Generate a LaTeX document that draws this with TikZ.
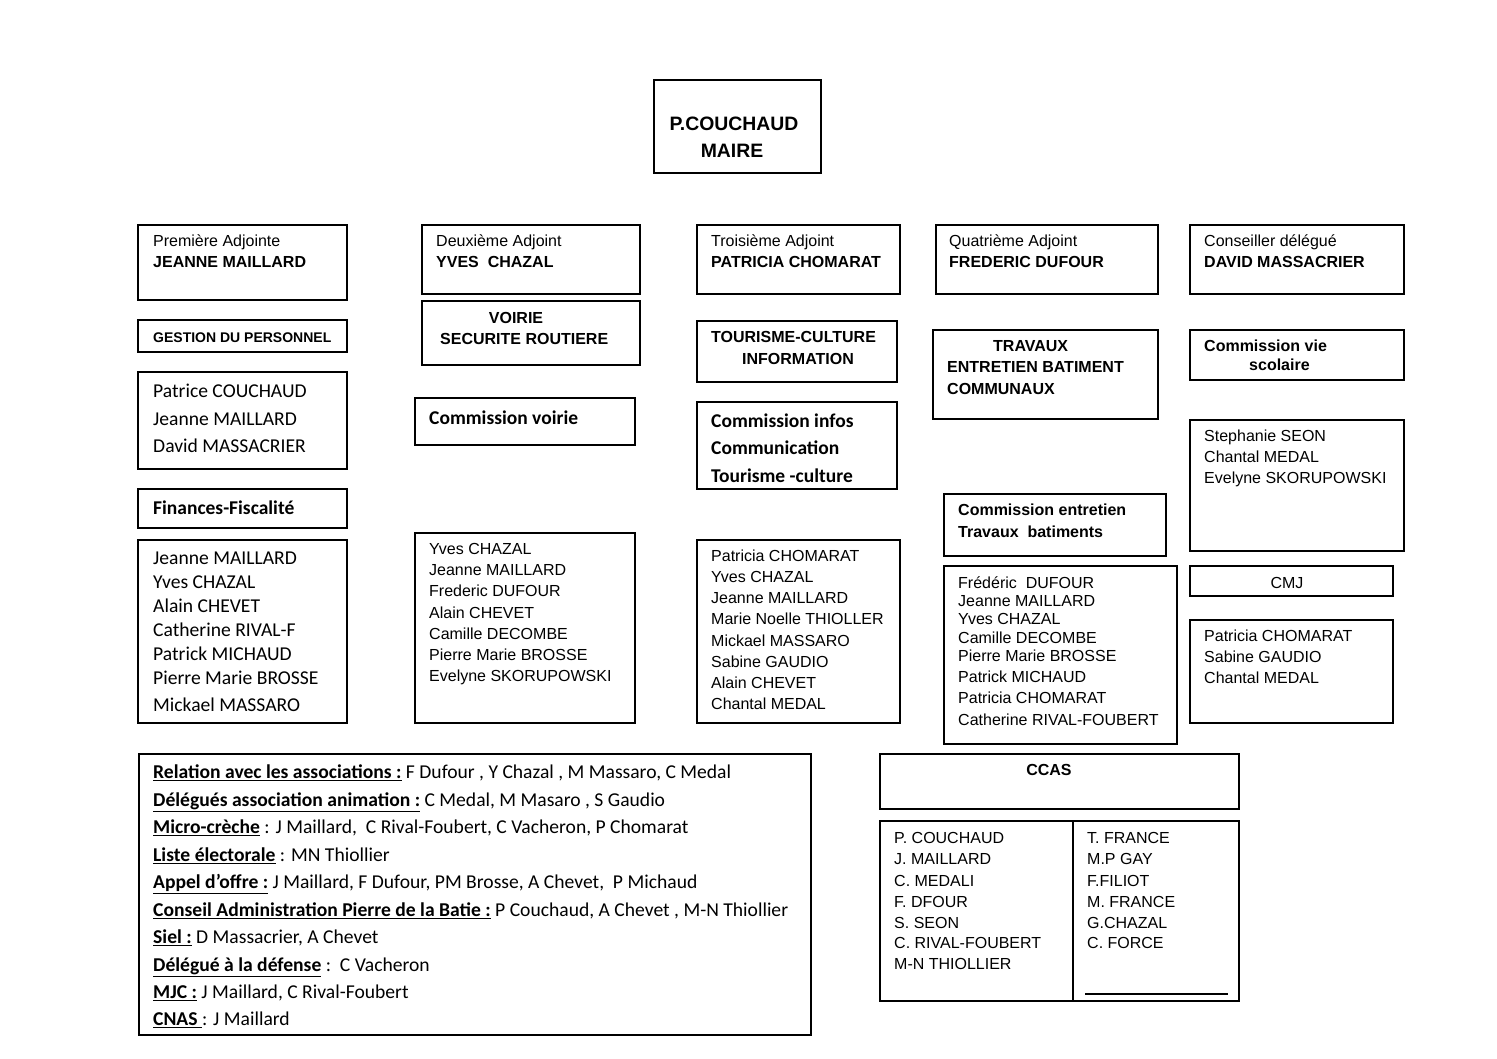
\documentclass[tikz,border=0pt]{standalone}
\usepackage{fontspec}
\newfontfamily\arialf{Liberation Sans}
\newfontfamily\calibf{Carlito}
\begin{document}
\begin{tikzpicture}[x=1pt,y=-1pt,
  bx/.style={draw=black, line width=1.6pt},
  ar/.style={anchor=west, inner sep=0pt, font=\arialf\fontsize{16}{19}\selectfont, text height=11.5pt, text depth=0pt},
  arb/.style={ar, font=\arialf\bfseries\fontsize{16}{19}\selectfont},
  arbs/.style={ar, font=\arialf\bfseries\fontsize{14}{17}\selectfont, text height=10pt},
  arbm/.style={anchor=center, inner sep=0pt, font=\arialf\bfseries\fontsize{19.4}{22}\selectfont, text height=13.9pt, text depth=0pt},
  ca/.style={anchor=west, inner sep=0pt, font=\calibf\fontsize{19.6}{23}\selectfont, text height=12.6pt, text depth=0pt},
  cab/.style={ca, font=\calibf\bfseries\fontsize{19.5}{23}\selectfont},
  re/.style={anchor=west, inner sep=0pt, font=\calibf\fontsize{19.6}{23}\selectfont, text height=12.6pt, text depth=0pt}]
\useasboundingbox[fill=white] (0,0) rectangle (1497,1058);

% boxes
\draw[bx] (654,80) rectangle (821,173);
\draw[bx] (138,225) rectangle (347,300);
\draw[bx] (422,225) rectangle (640,294);
\draw[bx] (697,225) rectangle (900,294);
\draw[bx] (936,225) rectangle (1158,294);
\draw[bx] (1190,225) rectangle (1404,294);
\draw[bx] (138,320) rectangle (347,352);
\draw[bx] (138,372) rectangle (347,469);
\draw[bx] (138,489) rectangle (347,528);
\draw[bx] (138,540) rectangle (347,723);
\draw[bx] (422,301) rectangle (640,365);
\draw[bx] (415,398) rectangle (635,445);
\draw[bx] (415,533) rectangle (635,723);
\draw[bx] (697,321) rectangle (897,382);
\draw[bx] (697,402) rectangle (897,489);
\draw[bx] (697,540) rectangle (900,723);
\draw[bx] (933,330) rectangle (1158,419);
\draw[bx] (944,494) rectangle (1166,556);
\draw[bx] (944,566) rectangle (1177,744);
\draw[bx] (1190,330) rectangle (1404,380);
\draw[bx] (1190,420) rectangle (1404,551);
\draw[bx] (1190,566) rectangle (1393,596);
\draw[bx] (1190,620) rectangle (1393,723);
\draw[bx] (139,754) rectangle (811,1035);
\draw[bx] (880,754) rectangle (1239,809);
\draw[bx] (880,821) rectangle (1239,1001);
\draw[bx] (1073,821) -- (1073,1001);
\draw[line width=1.2pt] (1085,994) -- (1228,994);

% maire
\node[arbm] (m1) at (734,124) {P.COUCHAUD};
\node[arbm] (m2) at (732,151) {MAIRE};

% adjoints
\node[ar] (a1t) at (153,241) {Première Adjointe};
\node[arb] (a1n) at (153,262) {JEANNE MAILLARD};
\node[ar] (a2t) at (436,241) {Deuxième Adjoint};
\node[arb] (a2n) at (436,262) {YVES\ \ CHAZAL};
\node[ar] (a3t) at (711,241) {Troisième Adjoint};
\node[arb] (a3n) at (711,262) {PATRICIA CHOMARAT};
\node[ar] (a4t) at (949,241) {Quatrième Adjoint};
\node[arb] (a4n) at (949,262) {FREDERIC DUFOUR};
\node[ar] (a5t) at (1204,241) {Conseiller délégué};
\node[arb] (a5n) at (1204,262) {DAVID MASSACRIER};

% column 1
\node[arbs] (gp) at (153,337) {GESTION DU PERSONNEL};
\foreach \y/\t [count=\i] in {391/{Patrice COUCHAUD},419/{Jeanne MAILLARD},446/{David MASSACRIER}}
  \node[ca] (pl\i) at (153,\y) {\t};
\node[cab] (ff) at (153,508) {Finances-Fiscalité};
\foreach \y/\t [count=\i] in {558/{Jeanne MAILLARD},582/{Yves CHAZAL},606/{Alain CHEVET},630/{Catherine RIVAL-F},654/{Patrick MICHAUD},678/{Pierre Marie BROSSE},705/{Mickael MASSARO}}
  \node[ca] (jl\i) at (153,\y) {\t};

% column 2
\node[arb, anchor=center] (vo1) at (516,318) {VOIRIE};
\node[arb] (vo2) at (440,339) {SECURITE ROUTIERE};
\node[cab] (cv) at (429,418) {Commission voirie};
\foreach \y/\t [count=\i] in {549/{Yves CHAZAL},570/{Jeanne MAILLARD},591/{Frederic DUFOUR},613/{Alain CHEVET},634/{Camille DECOMBE},655/{Pierre Marie BROSSE},676/{Evelyne SKORUPOWSKI}}
  \node[ar] (yl\i) at (429,\y) {\t};

% column 3
\node[arb] (tc1) at (711,337) {TOURISME-CULTURE};
\node[arb] (tc2) at (742,359) {INFORMATION};
\foreach \y/\t [count=\i] in {421/{Commission infos},448/{Communication},476/{Tourisme -culture}}
  \node[cab] (ci\i) at (711,\y) {\t};
\foreach \y/\t [count=\i] in {556/{Patricia CHOMARAT},577/{Yves CHAZAL},598/{Jeanne MAILLARD},619/{Marie Noelle THIOLLER},641/{Mickael MASSARO},662/{Sabine GAUDIO},683/{Alain CHEVET},704/{Chantal MEDAL}}
  \node[ar] (pc\i) at (711,\y) {\t};

% column 4
\node[arb] (tr1) at (993,346) {TRAVAUX};
\node[arb] (tr2) at (947,367) {ENTRETIEN BATIMENT};
\node[arb] (tr3) at (947,389) {COMMUNAUX};
\node[arb] (ce1) at (958,510) {Commission entretien};
\node[arb] (ce2) at (958,532) {Travaux\ \ batiments};
\foreach \y/\t [count=\i] in {583/{Frédéric\ \ DUFOUR},601/{Jeanne MAILLARD},619/{Yves CHAZAL},638/{Camille DECOMBE},656/{Pierre Marie BROSSE},677/{Patrick MICHAUD},698/{Patricia CHOMARAT},720/{Catherine RIVAL-FOUBERT}}
  \node[ar] (fd\i) at (958,\y) {\t};

% column 5
\node[arb] (vs1) at (1204,346) {Commission vie};
\node[arb] (vs2) at (1249,365) {scolaire};
\foreach \y/\t [count=\i] in {436/{Stephanie SEON},457/{Chantal MEDAL},478/{Evelyne SKORUPOWSKI}}
  \node[ar] (ss\i) at (1204,\y) {\t};
\node[ar, anchor=center] (cmj) at (1287,583) {CMJ};
\foreach \y/\t [count=\i] in {636/{Patricia CHOMARAT},657/{Sabine GAUDIO},678/{Chantal MEDAL}}
  \node[ar] (ps\i) at (1204,\y) {\t};

% relations
\node[re] (r1) at (153,772) {\textbf{\underline{Relation avec les associations :}} F Dufour , Y Chazal , M Massaro, C Medal};
\node[re] (r2) at (153,800) {\textbf{\underline{Délégués association animation :}} C Medal, M Masaro , S Gaudio};
\node[re] (r3) at (153,827) {\textbf{\underline{Micro-crèche}} : J Maillard,\ \ C Rival-Foubert, C Vacheron, P Chomarat};
\node[re] (r4) at (153,855) {\textbf{\underline{Liste électorale}} : MN Thiollier};
\node[re] (r5) at (153,882) {\textbf{\underline{Appel d’offre :}} J Maillard, F Dufour, PM Brosse, A Chevet,\ \ P Michaud};
\node[re] (r6) at (153,910) {\textbf{\underline{Conseil Administration Pierre de la Batie :}} P Couchaud, A Chevet , M-N Thiollier};
\node[re] (r7) at (153,937) {\textbf{\underline{Siel :}} D Massacrier, A Chevet};
\node[re] (r8) at (153,965) {\textbf{\underline{Délégué à la défense}} :\ \ C Vacheron};
\node[re] (r9) at (153,992) {\textbf{\underline{MJC :}} J Maillard, C Rival-Foubert};
\node[re] (r10) at (153,1019) {\textbf{\underline{CNAS }}: J Maillard};

% CCAS
\node[arb, anchor=center] (ccas) at (1049,770) {CCAS};
\foreach \y/\t [count=\i] in {838/{P. COUCHAUD},859/{J. MAILLARD},881/{C. MEDALI},902/{F. DFOUR},923/{S. SEON},943/{C. RIVAL-FOUBERT},964/{M-N THIOLLIER}}
  \node[ar] (cl\i) at (894,\y) {\t};
\foreach \y/\t [count=\i] in {838/{T. FRANCE},859/{M.P GAY},881/{F.FILIOT},902/{M. FRANCE},923/{G.CHAZAL},943/{C. FORCE}}
  \node[ar] (cr\i) at (1087,\y) {\t};
\end{tikzpicture}
\end{document}
